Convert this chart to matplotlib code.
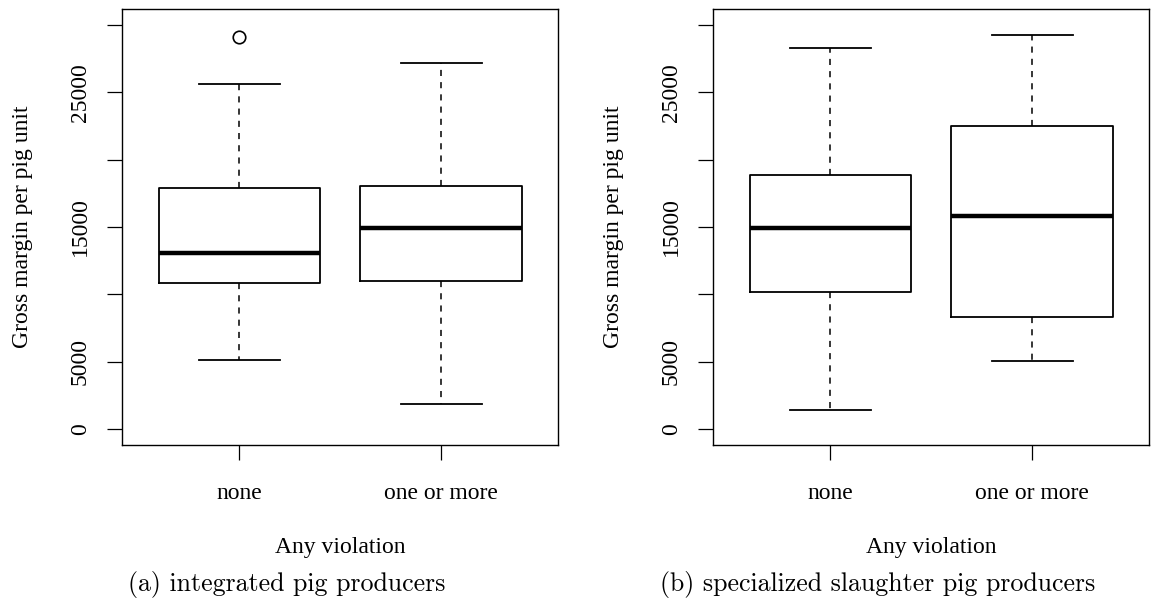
import matplotlib
matplotlib.use("Agg")
import matplotlib.pyplot as plt

# ---- data ----------------------------------------------------------------
GROUPS = ["none", "one or more"]

# integrated pig producers
A_WHISLO = [5100, 1860]
A_Q1 = [10810, 10960]
A_MED = [13100, 14950]
A_Q3 = [17930, 18030]
A_WHISHI = [25600, 27200]
A_FLIERS = [[29140], []]

# specialized slaughter pig producers
B_WHISLO = [1410, 5010]
B_Q1 = [10140, 8280]
B_MED = [14900, 15850]
B_Q3 = [18850, 22490]
B_WHISHI = [28320, 29290]
B_FLIERS = [[], []]

YTICKS = [0, 5000, 10000, 15000, 20000, 25000, 30000]
YTICKLABELS = ["0", "5000", "", "15000", "", "25000", ""]
CAPTIONS = ["(a) integrated pig producers",
            "(b) specialized slaughter pig producers"]

W, H = 1151, 603
plt.rcParams.update({"font.family": "Liberation Serif", "font.size": 17})


def stats(lo, q1, med, q3, hi, fl):
    return [dict(whislo=a, q1=b, med=c, q3=d, whishi=e, fliers=f)
            for a, b, c, d, e, f in zip(lo, q1, med, q3, hi, fl)]


def panel(fig, left, st, caption):
    ax = fig.add_axes([left / W, (H - 445) / H, 436 / W, 436 / H])
    ax.bxp(st, positions=[1, 2], widths=0.8, showfliers=True,
           patch_artist=False,
           boxprops=dict(color="black", lw=1.3),
           medianprops=dict(color="black", lw=3.2, solid_capstyle="butt"),
           whiskerprops=dict(color="black", lw=1.1, dashes=(4, 4)),
           capprops=dict(color="black", lw=1.3),
           capwidths=0.4,
           flierprops=dict(marker="o", markersize=9, markerfacecolor="none",
                           markeredgecolor="black", markeredgewidth=1.2))
    ax.set_xlim(0.42, 2.58)
    ax.set_ylim(-1200, 31200)
    ax.set_yticks(YTICKS, YTICKLABELS, rotation=90, va="center")
    ax.set_xticks([1, 2], GROUPS)
    ax.tick_params(axis="y", length=10.5, width=0.9, pad=12)
    ax.tick_params(axis="x", length=10.5, width=0.9, pad=17)
    for s in ax.spines.values():
        s.set_linewidth(1.0)
    cx = (left + 436 / 2) / W
    fig.text((left - 100) / W, 1 - 227 / H, "Gross margin per pig unit",
             rotation=90, ha="center", va="center")
    fig.text(cx, 1 - 548 / H, "Any violation", ha="center", va="center")
    # the sub-captions sit a little left of the panel centres
    fig.text(cx - 54 / W, 1 - 585 / H, caption, ha="center",
             va="center", family="cmr10", fontsize=18.6)
    return ax


fig = plt.figure(figsize=(W / 100, H / 100), dpi=100)
panel(fig, 122.3, stats(A_WHISLO, A_Q1, A_MED, A_Q3, A_WHISHI, A_FLIERS),
      CAPTIONS[0])
panel(fig, 713.3, stats(B_WHISLO, B_Q1, B_MED, B_Q3, B_WHISHI, B_FLIERS),
      CAPTIONS[1])
fig.savefig("out.png", dpi=100)
